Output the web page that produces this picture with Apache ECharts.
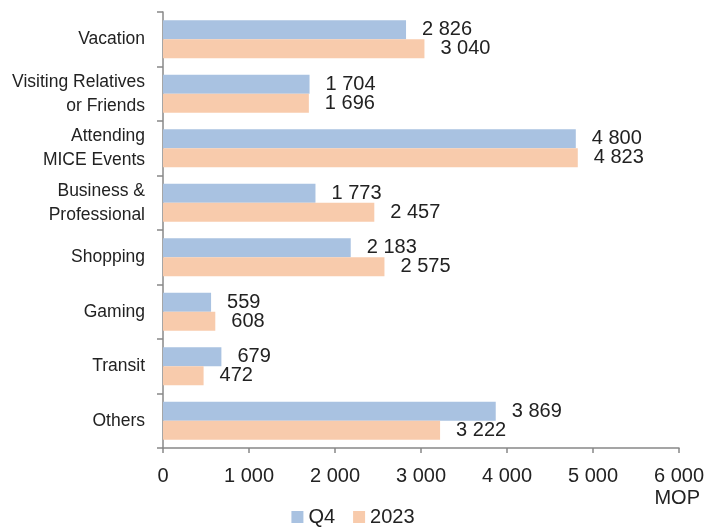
<!DOCTYPE html>
<html>
<head>
<meta charset="utf-8">
<script src="https://cdn.jsdelivr.net/npm/echarts@6/dist/echarts.min.js"></script>
<style>
  html, body { margin: 0; padding: 0; background: #fff; }
  #chart { width: 706px; height: 532px; }
</style>
</head>
<body>
<div id="chart"></div>
<script>
  var categories = ['Vacation', 'Visiting Relatives\nor Friends', 'Attending\nMICE Events', 'Business &\nProfessional', 'Shopping', 'Gaming', 'Transit', 'Others'];
  var q4Values = [2826, 1704, 4800, 1773, 2183, 559, 679, 3869];
  var y2023Values = [3040, 1696, 4823, 2457, 2575, 608, 472, 3222];
  var seriesNames = ['Q4', '2023'];

  var font = "'Liberation Sans', Arial, sans-serif";

  function fmt(v) {
    return String(v).replace(/\B(?=(\d{3})+(?!\d))/g, ' ');
  }

  var myChart = echarts.init(document.getElementById('chart'));
  var option = {
    animation: false,
    textStyle: { fontFamily: font },
    grid: { left: 163, right: 27, top: 12, bottom: 84, outerBoundsMode: 'none', containLabel: false },
    legend: {
      data: seriesNames,
      bottom: 0,
      left: 'center',
      icon: 'rect',
      itemWidth: 12,
      itemHeight: 12,
      itemGap: 18,
      textStyle: { fontFamily: font, fontSize: 20, color: '#222' }
    },
    xAxis: {
      type: 'value',
      min: 0,
      max: 6000,
      interval: 1000,
      splitLine: { show: false },
      axisLine: { show: true, lineStyle: { color: '#888', width: 1.5 } },
      axisTick: { show: true, length: 5, lineStyle: { color: '#888', width: 1.5 } },
      axisLabel: {
        margin: 18,
        fontFamily: font,
        fontSize: 20,
        color: '#222',
        formatter: fmt
      }
    },
    yAxis: {
      type: 'category',
      inverse: true,
      data: categories,
      axisLine: { show: true, lineStyle: { color: '#888', width: 1.5 } },
      axisTick: { show: true, length: 6, lineStyle: { color: '#888', width: 1.5 } },
      axisLabel: {
        margin: 18,
        fontFamily: font,
        fontSize: 17.5,
        lineHeight: 24,
        color: '#222',
        align: 'right'
      }
    },
    graphic: [{
      type: 'text',
      right: 6,
      top: 488,
      style: { text: 'MOP', font: '20px ' + font, fill: '#222' }
    }],
    series: [
      {
        name: seriesNames[0],
        type: 'bar',
        data: q4Values,
        barGap: '0%',
        barCategoryGap: '30%',
        itemStyle: { color: '#a9c2e1' },
        label: {
          show: true,
          position: 'right',
          distance: 16,
          fontFamily: font,
          fontSize: 20,
          color: '#222',
          formatter: function (p) { return fmt(p.value); }
        }
      },
      {
        name: seriesNames[1],
        type: 'bar',
        data: y2023Values,
        barGap: '0%',
        barCategoryGap: '30%',
        itemStyle: { color: '#f8cbac' },
        label: {
          show: true,
          position: 'right',
          distance: 16,
          fontFamily: font,
          fontSize: 20,
          color: '#222',
          formatter: function (p) { return fmt(p.value); }
        }
      }
    ]
  };

  option && myChart.setOption(option);
</script>
</body>
</html>
